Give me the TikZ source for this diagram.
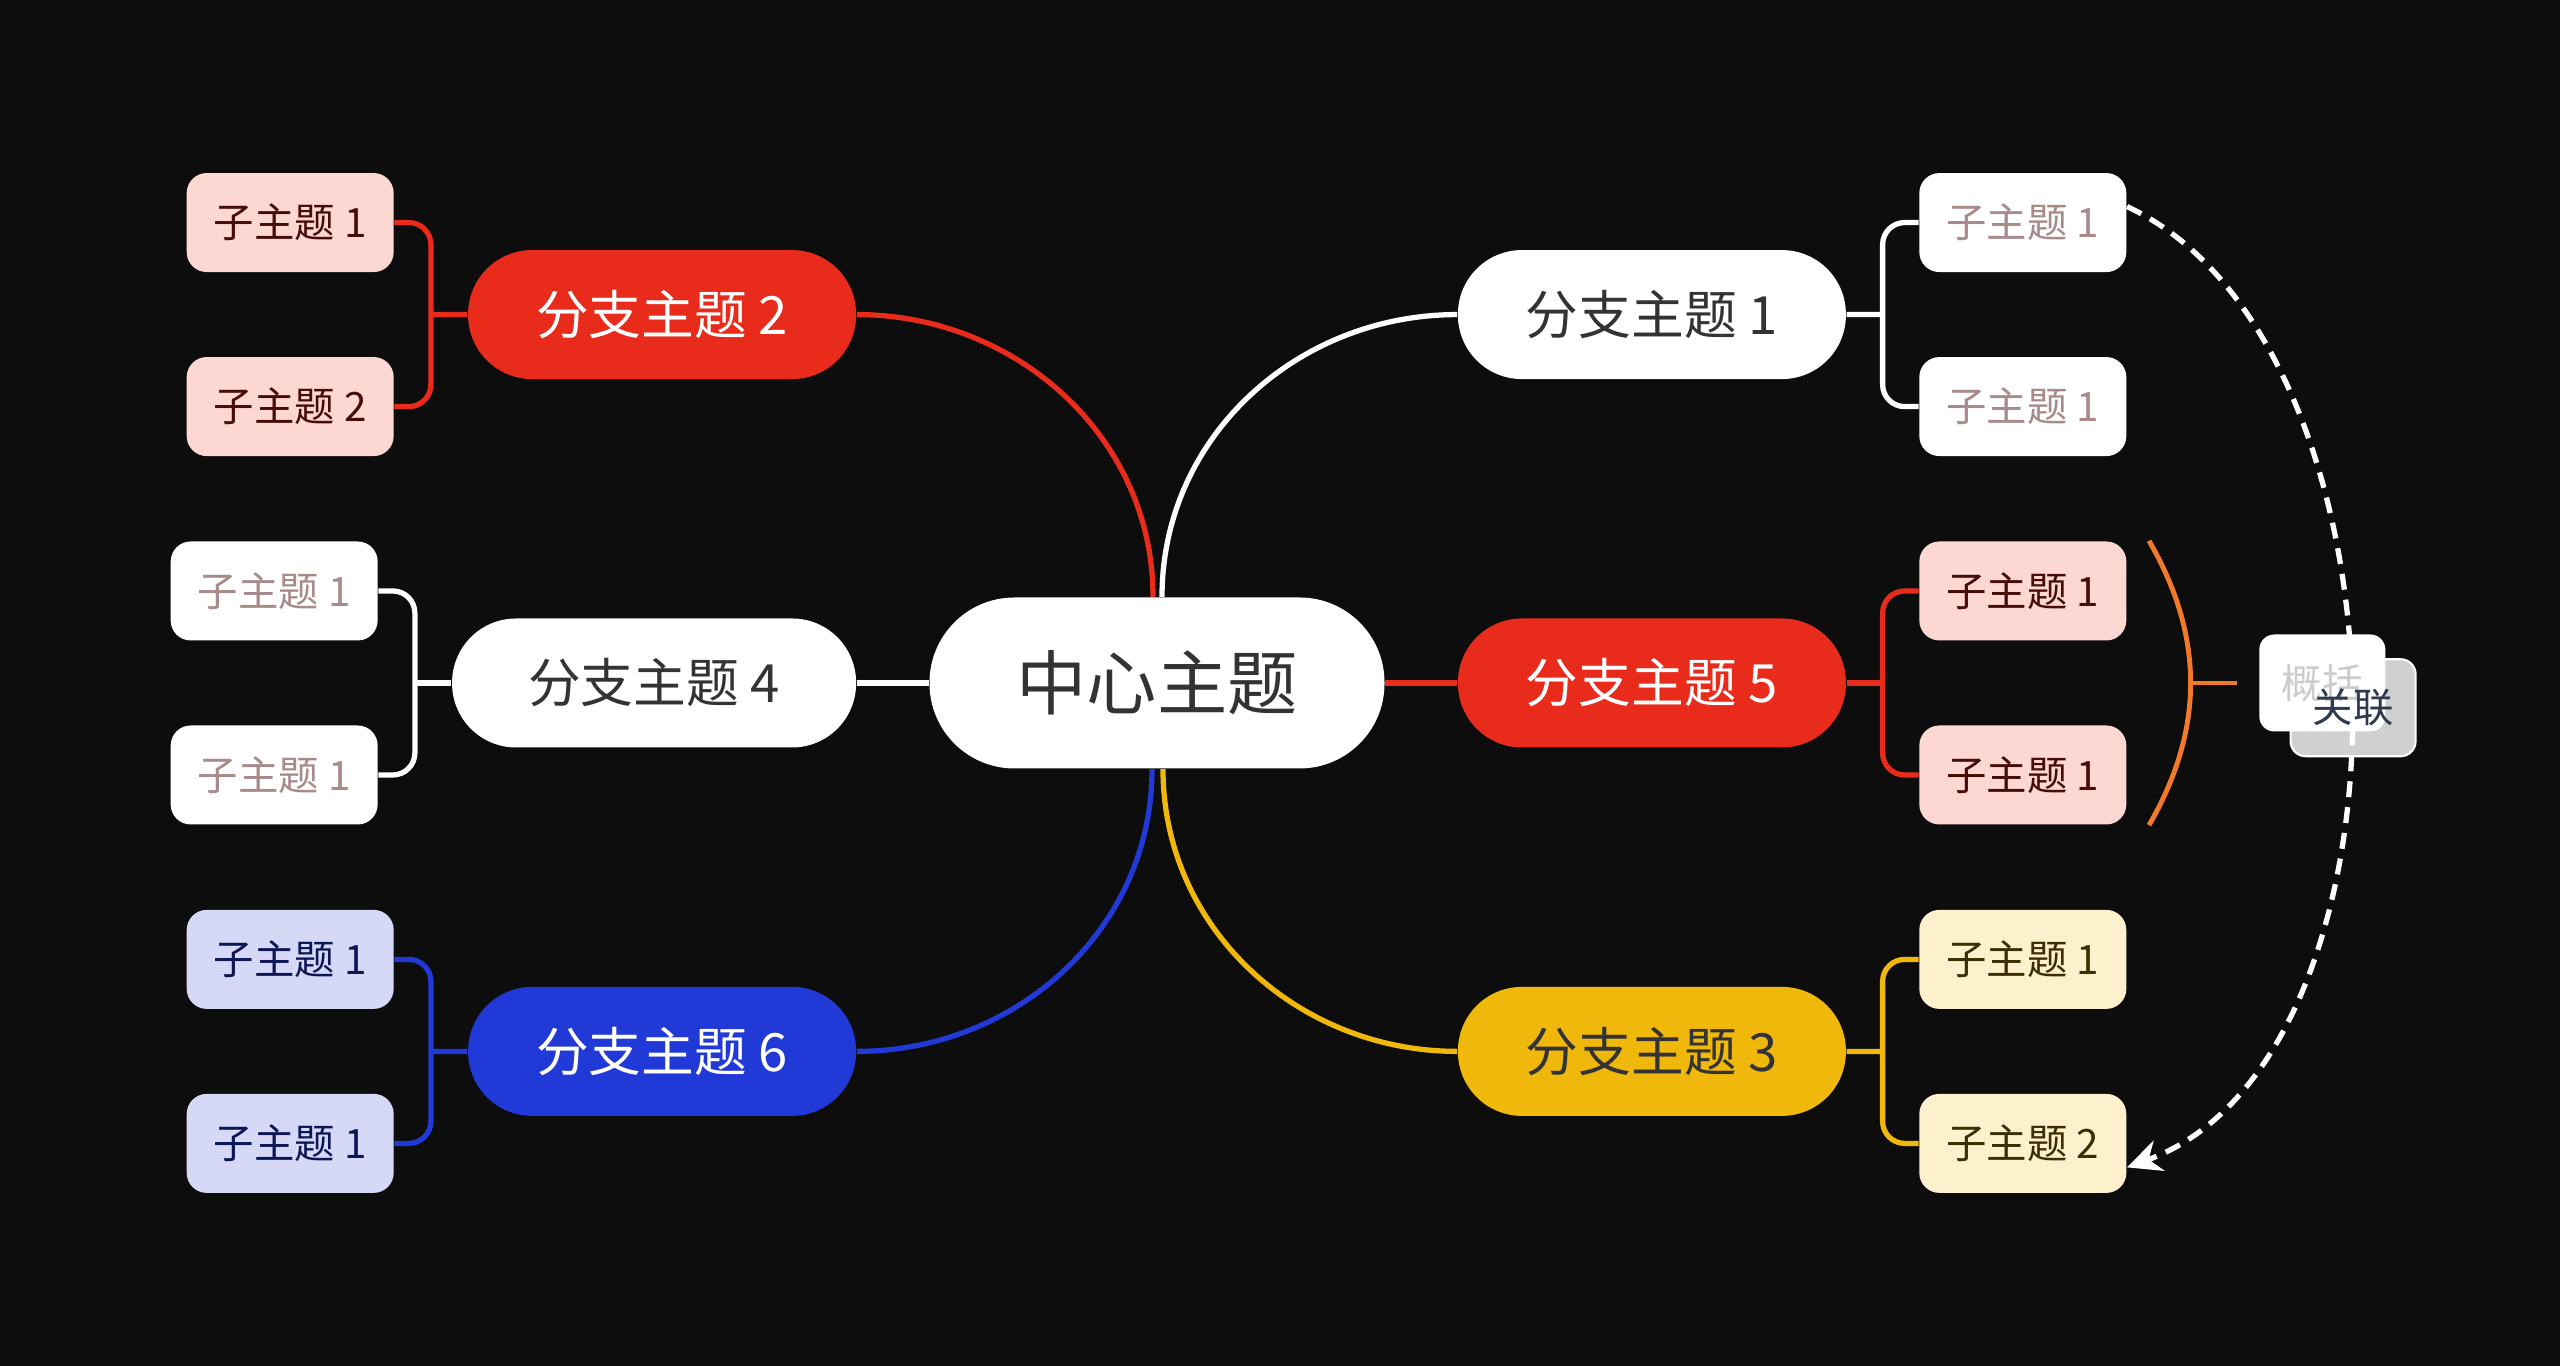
\documentclass[tikz,border=0pt]{standalone}
\usepackage{fontspec}
\setmainfont{Noto Sans CJK SC}
\usetikzlibrary{positioning,calc,arrows.meta}

\definecolor{bgdark}{HTML}{0D0D0D}
\definecolor{mapred}{HTML}{E92B1B}
\definecolor{mapblue}{HTML}{2139D6}
\definecolor{mapyellow}{HTML}{F0B80A}
\definecolor{maporange}{HTML}{F07A2A}
\definecolor{redsub}{HTML}{FDD8D3}
\definecolor{bluesub}{HTML}{D5D9F6}
\definecolor{yellowsub}{HTML}{FDF0CC}
\definecolor{darktext}{HTML}{333333}
\definecolor{mauvetext}{HTML}{A88A8A}
\definecolor{relgray}{HTML}{D0D0D0}
\definecolor{reltext}{HTML}{2F3A4F}

\pgfdeclarelayer{behind}
\pgfsetlayers{behind,main}

\begin{document}
\begin{tikzpicture}[
    root/.style={rectangle, fill=white, text=darktext, minimum width=4.55cm, minimum height=1.71cm, rounded corners=0.85cm, font=\fontsize{20pt}{24pt}\selectfont},
    branch/.style={rectangle, minimum width=3.88cm, minimum height=1.29cm, rounded corners=0.64cm, font=\fontsize{15pt}{18pt}\selectfont},
    subtopic/.style={rectangle, minimum width=2.07cm, minimum height=0.99cm, rounded corners=0.2cm, font=\fontsize{11.5pt}{14pt}\selectfont},
    redleaf/.style={subtopic, fill=redsub, text=black!70!mapred},
    whiteleaf/.style={subtopic, fill=white, text=mauvetext},
    blueleaf/.style={subtopic, fill=bluesub, text=black!60!mapblue},
    yellowleaf/.style={subtopic, fill=yellowsub, text=black!75!mapyellow},
    link/.style={draw=#1, line width=1.5pt},
    elbow/.style={draw=#1, line width=1.5pt, rounded corners=0.22cm},
    sumline/.style={draw=maporange, line width=1.4pt},
    sumbox/.style={rectangle, fill=white, text=black!20, minimum width=1.26cm, minimum height=0.97cm, rounded corners=0.15cm, font=\fontsize{11.5pt}{14pt}\selectfont},
    relbox/.style={rectangle, fill=relgray, draw=white, line width=0.6pt, minimum width=1.25cm, minimum height=0.97cm, rounded corners=0.15cm},
    relline/.style={draw=white, line width=1.5pt, dash pattern=on 0.16cm off 0.1cm, -{Stealth[length=0.34cm, width=0.32cm]}}
]

\begin{pgfonlayer}{behind}
  \fill[bgdark] (0,0) rectangle (25.6,13.66);
\end{pgfonlayer}
\useasboundingbox (0,0) rectangle (25.6,13.66);

% centre and main branches
\node[root] (root) at (11.57,6.83) {中心主题};
\node[branch, fill=mapred, text=white, right=0.72cm of root] (b5) {分支主题 5};
\node[branch, fill=white, text=darktext, minimum width=4.04cm, left=0.72cm of root] (b4) {分支主题 4};
\node[branch, fill=white, text=darktext, above=2.38cm of b5] (b1) {分支主题 1};
\node[branch, fill=mapyellow, text=darktext, below=2.38cm of b5] (b3) {分支主题 3};
\node[branch, fill=mapred, text=white, above=2.38cm of b4.north east, anchor=south east] (b2) {分支主题 2};
\node[branch, fill=mapblue, text=white, below=2.38cm of b4.south east, anchor=north east] (b6) {分支主题 6};

% sub topics
\node[redleaf, left=0.73cm of b2, yshift=0.92cm] (s21) {子主题 1};
\node[redleaf, left=0.73cm of b2, yshift=-0.92cm] (s22) {子主题 2};
\node[whiteleaf, left=0.73cm of b4, yshift=0.92cm] (s41) {子主题 1};
\node[whiteleaf, left=0.73cm of b4, yshift=-0.92cm] (s42) {子主题 1};
\node[blueleaf, left=0.73cm of b6, yshift=0.92cm] (s61) {子主题 1};
\node[blueleaf, left=0.73cm of b6, yshift=-0.92cm] (s62) {子主题 1};
\node[whiteleaf, right=0.72cm of b1, yshift=0.92cm] (s11) {子主题 1};
\node[whiteleaf, right=0.72cm of b1, yshift=-0.92cm] (s12) {子主题 1};
\node[redleaf, right=0.72cm of b5, yshift=0.92cm] (s51) {子主题 1};
\node[redleaf, right=0.72cm of b5, yshift=-0.92cm] (s52) {子主题 1};
\node[yellowleaf, right=0.72cm of b3, yshift=0.92cm] (s31) {子主题 1};
\node[yellowleaf, right=0.72cm of b3, yshift=-0.92cm] (s32) {子主题 2};

% centre to branches
\draw[link=white] (b4.east) -- (root.west);
\draw[link=mapred] (root.east) -- (b5.west);
\draw[link=mapred] ([xshift=-0.04cm]root.north) to[out=90, in=0] (b2.east);
\draw[link=white] ([xshift=0.05cm]root.north) to[out=90, in=180] (b1.west);
\draw[link=mapblue] ([xshift=-0.05cm]root.south) to[out=-90, in=0] (b6.east);
\draw[link=mapyellow] ([xshift=0.06cm]root.south) to[out=-90, in=180] (b3.west);

% branches to sub topics
\coordinate (j2) at ($(b2.west)!0.5!(b2.west -| s21.east)$);
\draw[elbow=mapred] (s21.east) -| (j2) |- (s22.east);
\draw[link=mapred] (b2.west) -- (j2);
\coordinate (j4) at ($(b4.west)!0.5!(b4.west -| s41.east)$);
\draw[elbow=white] (s41.east) -| (j4) |- (s42.east);
\draw[link=white] (b4.west) -- (j4);
\coordinate (j6) at ($(b6.west)!0.5!(b6.west -| s61.east)$);
\draw[elbow=mapblue] (s61.east) -| (j6) |- (s62.east);
\draw[link=mapblue] (b6.west) -- (j6);
\coordinate (j1) at ($(b1.east)!0.5!(b1.east -| s11.west)$);
\draw[elbow=white] (s11.west) -| (j1) |- (s12.west);
\draw[link=white] (b1.east) -- (j1);
\coordinate (j5) at ($(b5.east)!0.5!(b5.east -| s51.west)$);
\draw[elbow=mapred] (s51.west) -| (j5) |- (s52.west);
\draw[link=mapred] (b5.east) -- (j5);
\coordinate (j3) at ($(b3.east)!0.5!(b3.east -| s31.west)$);
\draw[elbow=mapyellow] (s31.west) -| (j3) |- (s32.west);
\draw[link=mapyellow] (b3.east) -- (j3);

% relation
\draw[relline] ([yshift=0.16cm]s11.east) to[out=-25, in=20, looseness=0.86] node[coordinate, pos=0.5] (relmid) {} ([yshift=-0.24cm]s32.east);

% summary
\draw[sumline] ([xshift=0.22cm]s51.north east) to[out=-60, in=60] node[coordinate, pos=0.5] (sumtip) {} ([xshift=0.22cm]s52.south east);
\node[sumbox, right=0.68cm of sumtip] (sum) {概括};
\draw[sumline] (sumtip) -- ([xshift=-0.22cm]sum.west);

\node[text=reltext, font=\fontsize{11.5pt}{14pt}\selectfont] (rel) at ([xshift=0.03cm, yshift=-0.11cm]relmid) {关联};
\begin{pgfonlayer}{behind}
  \node[relbox] at (rel.center) {};
\end{pgfonlayer}

\end{tikzpicture}
\end{document}
